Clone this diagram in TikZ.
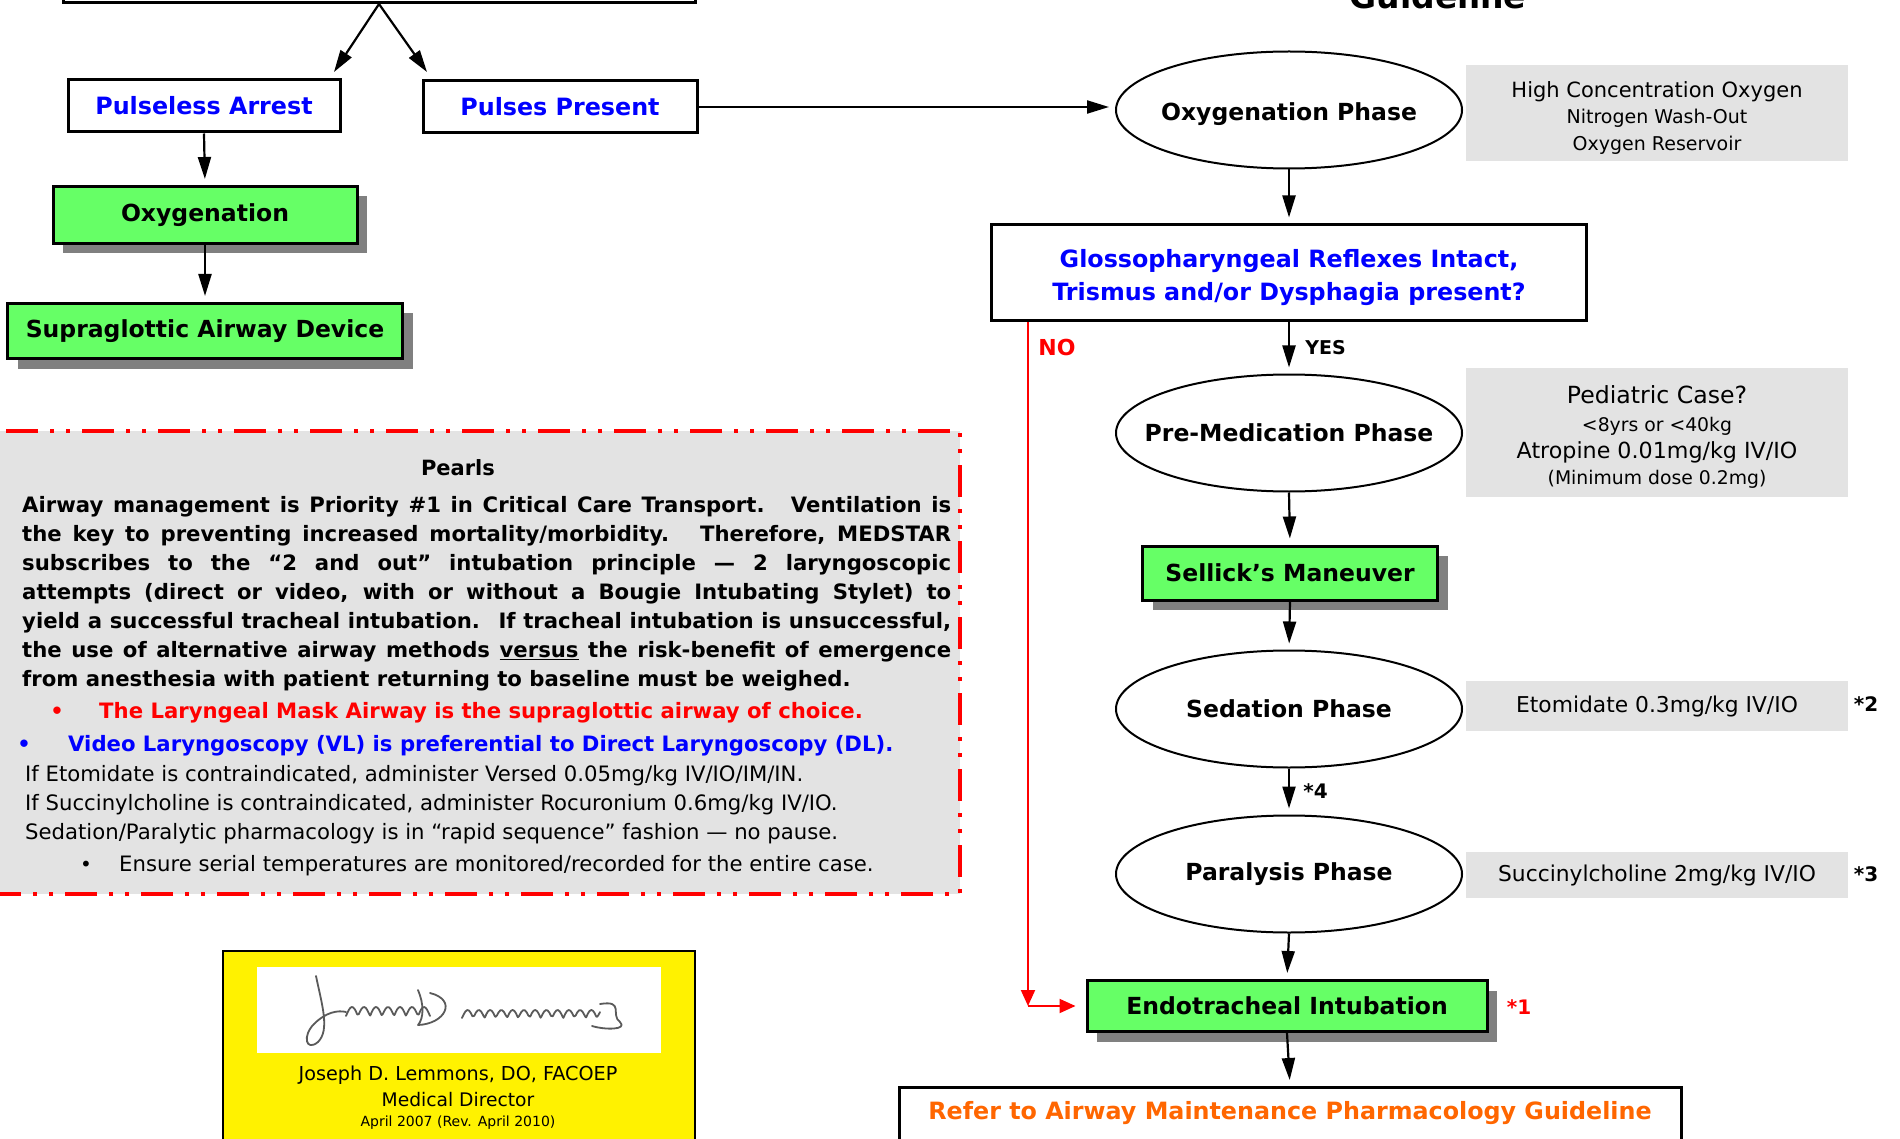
\documentclass[tikz,border=0pt]{standalone}
\usepackage{fontspec}
\setmainfont{DejaVu Sans}
\usetikzlibrary{arrows.meta,shapes.geometric,shadows}
\definecolor{boxgreen}{HTML}{66FF66}
\definecolor{notegray}{HTML}{E3E3E3}
\definecolor{shadowgray}{HTML}{808080}
\definecolor{referorange}{HTML}{FF6600}
\definecolor{inkgray}{HTML}{5A5A5A}
\newcommand{\fsz}[2]{\fontsize{#1pt}{#2pt}\selectfont}
\tikzset{
  arr/.style={line width=2.2pt,-{Triangle[length=22pt,width=13pt]},shorten >=6pt},
  noarr/.style={red,line width=2pt,-{Triangle[length=16pt,width=14pt]}},
  bluebox/.style={draw,line width=3pt,fill=white,text=blue,font=\fsz{23.8}{33}\bfseries,align=center},
  greenbox/.style={draw,line width=3pt,fill=boxgreen,font=\fsz{23.5}{28}\bfseries,
      drop shadow={shadow xshift=10pt,shadow yshift=-10pt,fill=shadowgray,opacity=1}},
  phase/.style={ellipse,draw,line width=2pt,fill=white,minimum width=346pt,minimum height=117pt,
      inner sep=0pt,label={[font=\fsz{23.5}{28}\bfseries]center:#1}},
  note/.style={fill=notegray,minimum width=382pt,align=center,font=\fsz{21.8}{27}},
  notetext/.style={align=center,inner sep=0pt},
  footmark/.style={font=\fsz{20}{24}\bfseries},
  pearl/.style={font=\fsz{21.2}{29}\bfseries,anchor=base west,inner sep=0pt},
  pearlplain/.style={font=\fsz{21.2}{29},anchor=base west,inner sep=0pt},
  sigink/.style={inkgray,line width=1.8pt,line cap=round,line join=round},
}
\begin{document}
\begin{tikzpicture}[x=1pt,y=-1pt]
\useasboundingbox (0,0) rectangle (1900,1139);
% top (cut off)
\node[draw,line width=3pt,minimum width=632pt,minimum height=100pt,anchor=south] (hdr) at (379,4) {};
\node[font=\fsz{33}{33}\bfseries,anchor=base] (title) at (1438,9) {Guideline};

% left column
\node[bluebox,minimum width=272pt,minimum height=52pt] (pa) at (204,106) {Pulseless Arrest};
\node[bluebox,minimum width=274pt,minimum height=52pt] (pp) at (560,107) {Pulses Present};
\node[greenbox,minimum width=304pt,minimum height=57pt] (oxy) at (205,215) {Oxygenation};
\node[greenbox,minimum width=395pt,minimum height=55pt] (sad) at (205,331) {Supraglottic Airway Device};
\coordinate (paend) at (334,72);
\coordinate (ppend) at (427,72);

% right column
\node[ellipse,draw,line width=2pt,fill=white,minimum width=346pt,minimum height=117pt,inner sep=0pt,
      label={[font=\fsz{23.5}{28}\bfseries,yshift=-4pt]center:Oxygenation Phase}] (ophase) at (1289,110) {};
\node[note,minimum height=96pt] (n1) at (1657,113) {};
\node[notetext,font=\fsz{19}{26.5}] (n1t) at (1657,118)
   {\fsz{21}{26.5}High Concentration Oxygen\\\fsz{19}{26.5}Nitrogen Wash-Out\\\fsz{19}{26.5}Oxygen Reservoir};
\node[bluebox,minimum width=595pt,minimum height=96pt] (gloss) at (1289,273) {};
\node[notetext,text=blue,font=\fsz{23.8}{33}\bfseries] (glosst) at (1289,278)
   {Glossopharyngeal Reflexes Intact,\\Trismus and/or Dysphagia present?};
\node[phase=Pre-Medication Phase] (prem) at (1289,433) {};
\node[note,minimum height=129pt] (n2) at (1657,432) {};
\node[notetext,font=\fsz{19}{26.8}] (n2t) at (1657,437)
   {\fsz{23.6}{27}Pediatric Case?\\[1.5pt]\fsz{18.8}{27}<8yrs or <40kg\\\fsz{22.2}{27}Atropine 0.01mg/kg IV/IO\\\fsz{18.8}{27}(Minimum dose 0.2mg)};
\node[greenbox,minimum width=295pt,minimum height=54pt] (sell) at (1290,573) {Sellick’s Maneuver};
\node[phase=Sedation Phase] (sed) at (1289,709) {};
\node[note,minimum height=50pt] (n3) at (1657,706) {Etomidate 0.3mg/kg IV/IO};
\node[footmark] (s2) at (1866,704) {*2};
\node[phase=Paralysis Phase] (par) at (1289,874) {};
\node[note,minimum height=46pt] (n4) at (1657,875) {Succinylcholine 2mg/kg IV/IO};
\node[footmark] (s3) at (1866,874) {*3};
\node[greenbox,minimum width=400pt,minimum height=51pt] (endo) at (1287,1006) {Endotracheal Intubation};
\node[footmark,text=red] (s1) at (1519,1007) {*1};
\node[draw,line width=3pt,fill=white,minimum width=782pt,anchor=north,inner ysep=15pt,text height=17pt,
      text depth=60pt,text=referorange,font=\fsz{23.8}{28}\bfseries] (refer) at (1290,1086)
   {Refer to Airway Maintenance Pharmacology Guideline};

% connectors
\draw[arr,shorten >=0pt] (hdr.south) -- (paend);
\draw[arr,shorten >=0pt] (hdr.south) -- (ppend);
\draw[arr] (pa.south) -- (oxy.north);
\draw[arr] (oxy.south) -- (sad.north);
\draw[arr] (pp.east) -- (pp.east -| ophase.west);
\foreach \a/\b in {ophase/gloss,prem/sell,sell/sed,par/endo,endo/refer}
   \draw[arr] (\a.south) -- (\b.north);
\draw[arr] (gloss.south) -- (prem.north) node[midway,right=12pt,font=\fsz{19}{19}\bfseries] (yes) {YES};
\draw[arr] (sed.south) -- (par.north) node[midway,right=10pt,footmark] (s4) {*4};
\coordinate (nocorner) at (1028,1006);
\draw[noarr] (gloss.south -| nocorner) -- (nocorner);
\draw[noarr,shorten >=10pt] (nocorner) -- (endo.west);
\node[font=\fsz{22}{22}\bfseries,text=red] (no) at (1057,347) {NO};

% pearls
\fill[notegray] (-10,431) rectangle (960,894);
\draw[red,line width=4pt,dash pattern=on 4pt off 12pt on 32pt off 12pt on 4pt off 12pt]
   (-10,431) -- (960,431) -- (960,894) -- (-10,894);
\node[font=\fsz{21}{21}\bfseries] (ptitle) at (458,468) {Pearls};
\node[pearl,text width=929pt,align=justify] (pbody) at (22,512)
 {Airway management is Priority \#1 in Critical Care Transport. \ Ventilation is\linebreak
  the key to preventing increased mortality/morbidity. \ Therefore, MEDSTAR\linebreak
  subscribes to the “2 and out” intubation principle — 2 laryngoscopic\linebreak
  attempts (direct or video, with or without a Bougie Intubating Stylet) to\linebreak
  yield a successful tracheal intubation. \ If tracheal intubation is unsuccessful,\linebreak
  the use of alternative airway methods \underline{versus} the risk-benefit of emergence\linebreak
  from anesthesia with patient returning to baseline must be weighed.};
\node[font=\fsz{21}{21}\bfseries,text=red,anchor=base] (b1) at (57,718) {•};
\node[pearl,text=red] (p1) at (99,718) {The Laryngeal Mask Airway is the supraglottic airway of choice.};
\node[font=\fsz{21}{21}\bfseries,text=blue,anchor=base] (b2) at (24,751) {•};
\node[pearl,text=blue] (p2) at (68,751) {Video Laryngoscopy (VL) is preferential to Direct Laryngoscopy (DL).};
\node[pearlplain] (p3) at (25,781) {If Etomidate is contraindicated, administer Versed 0.05mg/kg IV/IO/IM/IN.};
\node[pearlplain] (p4) at (25,810) {If Succinylcholine is contraindicated, administer Rocuronium 0.6mg/kg IV/IO.};
\node[pearlplain] (p5) at (25,839) {Sedation/Paralytic pharmacology is in “rapid sequence” fashion — no pause.};
\node[font=\fsz{20}{20},anchor=base] (b3) at (86,871) {•};
\node[pearlplain] (p6) at (119,871) {Ensure serial temperatures are monitored/recorded for the entire case.};

% signature block
\node[draw,line width=1.5pt,fill=yellow,minimum width=472pt,minimum height=240pt,anchor=north west] (sigbox) at (222,950) {};
\node[fill=white,minimum width=404pt,minimum height=86pt] (sigpic) at (459,1010) {};
\draw[sigink] (316,976) .. controls (322,1005) and (330,1030) .. (318,1042)
   .. controls (306,1052) and (302,1036) .. (314,1024) .. controls (326,1012) and (338,1010) .. (346,1012);
\draw[sigink] plot[smooth,domain=346:430,samples=60] (\x,{1016-9*abs(sin(15*(\x-346)))});
\draw[sigink] (418,990) .. controls (424,1004) and (424,1018) .. (418,1025)
   .. controls (445,1024) and (458,1000) .. (430,993);
\draw[sigink] plot[smooth,domain=462:600,samples=80] (\x,{1018-8*abs(sin(16*(\x-462)))});
\draw[sigink] (600,1004) .. controls (625,1000) and (610,1015) .. (620,1022)
   .. controls (628,1030) and (605,1030) .. (592,1026);
\node[font=\fsz{19.2}{19.2}] (sig1) at (458,1075) {Joseph D. Lemmons, DO, FACOEP};
\node[font=\fsz{18.7}{18.7}] (sig2) at (458,1100) {Medical Director};
\node[font=\fsz{14}{14}] (sig3) at (458,1123) {April 2007 (Rev. April 2010)};
\end{tikzpicture}
\end{document}
